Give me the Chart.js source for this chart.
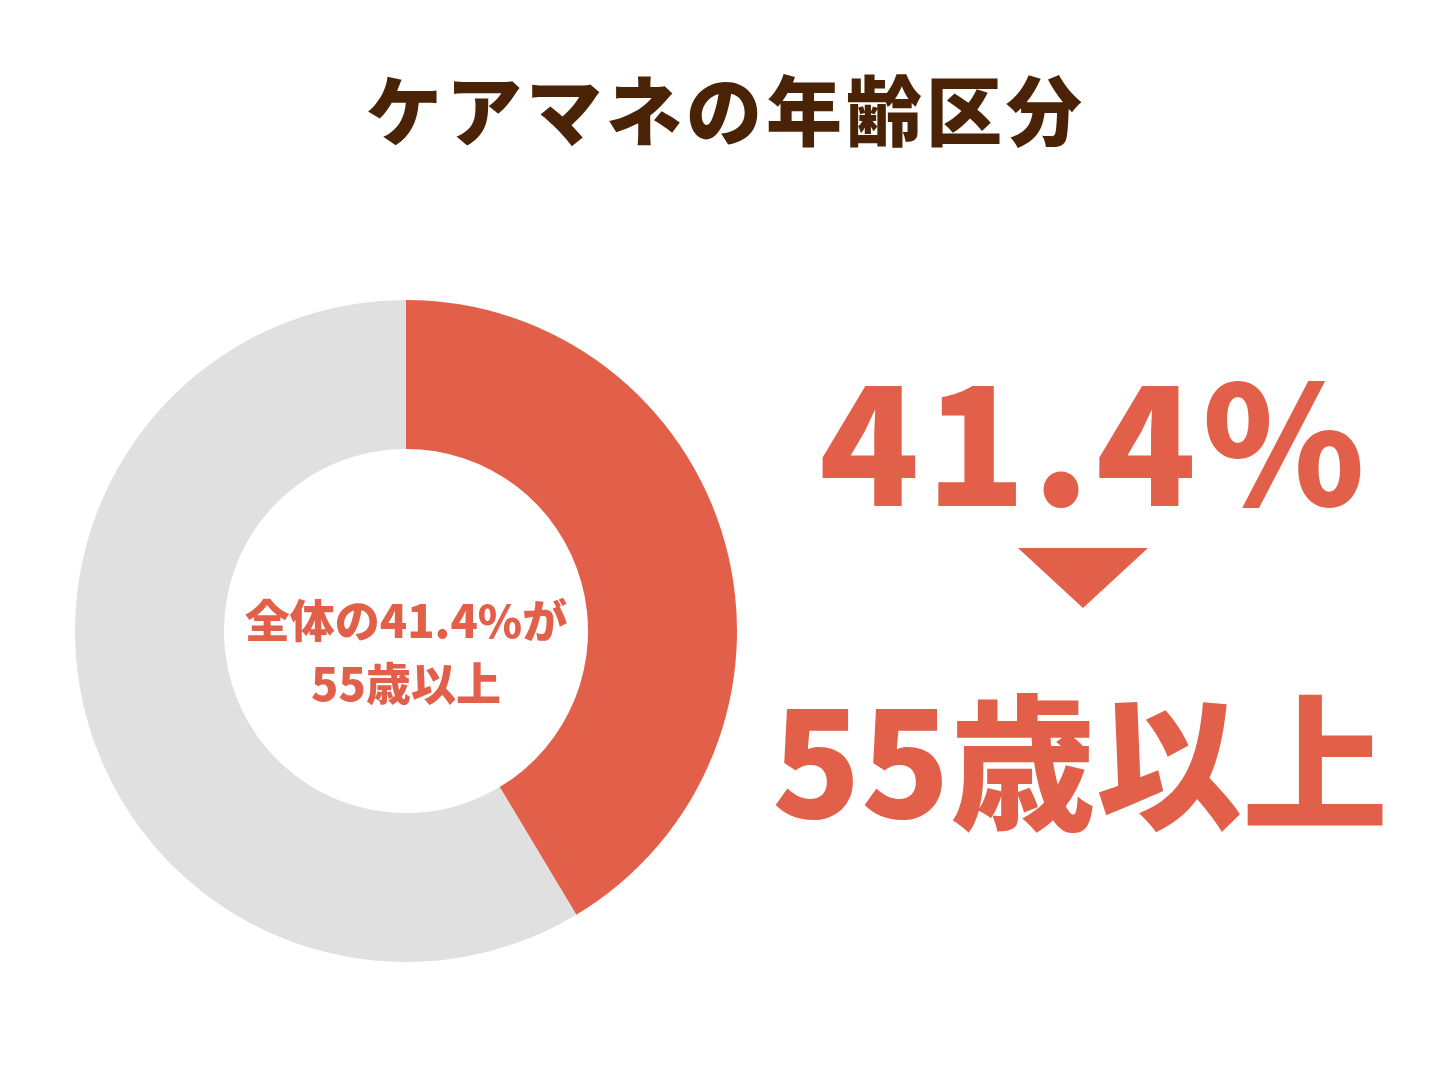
<!DOCTYPE html>
<html>
<head>
<meta charset="utf-8">
<script src="https://cdn.jsdelivr.net/npm/chart.js@4"></script>
<style>
  body { margin: 0; width: 1452px; height: 1089px; background: #fff; position: relative; font-family: "Noto Sans CJK JP", "Noto Sans", sans-serif; }
  .abs { position: absolute; font-weight: 900; white-space: nowrap; }
  #title { left: 0; width: 1452px; top: 52px; text-align: center; font-size: 76px; color: #4a2206; letter-spacing: 4px; }
  #chart-box { position: absolute; left: 75px; top: 300px; width: 662px; height: 662px; }
  #center { left: 75px; width: 662px; top: 587px; text-align: center; font-size: 45px; line-height: 63px; color: #e2604a; }
  #big1 { left: 800px; width: 590px; top: 335px; text-align: center; font-size: 165px; line-height: 200px; color: #e2604a; letter-spacing: 6px; }
  #tri { position: absolute; left: 1018px; top: 548px; width: 0; height: 0; border-left: 65px solid transparent; border-right: 65px solid transparent; border-top: 60px solid #e2604a; }
  #big2 { left: 765px; width: 630px; top: 665px; text-align: center; font-size: 146px; line-height: 180px; color: #e2604a; }
</style>
</head>
<body>
<div id="title" class="abs">ケアマネの年齢区分</div>
<div id="chart-box"><canvas id="chart"></canvas></div>
<div id="center" class="abs">全体の41.4%が<br>55歳以上</div>
<div id="big1" class="abs">41.4%</div>
<div id="tri"></div>
<div id="big2" class="abs">55歳以上</div>
<script>
// Chart data
const labels = ['55歳以上', '55歳未満'];
const values = [41.4, 58.6];
const colors = ['#e2604a', '#e0e0e0'];

const ctx = document.getElementById('chart');
new Chart(ctx, {
    type: 'doughnut',
    data: {
        labels: labels,
        datasets: [{
            data: values,
            backgroundColor: colors,
            borderWidth: 0
        }]
    },
    options: {
        responsive: true,
        maintainAspectRatio: false,
        animation: false,
        cutout: '55%',
        plugins: {
            legend: { display: false },
            tooltip: { enabled: false }
        }
    }
});
</script>
</body>
</html>
